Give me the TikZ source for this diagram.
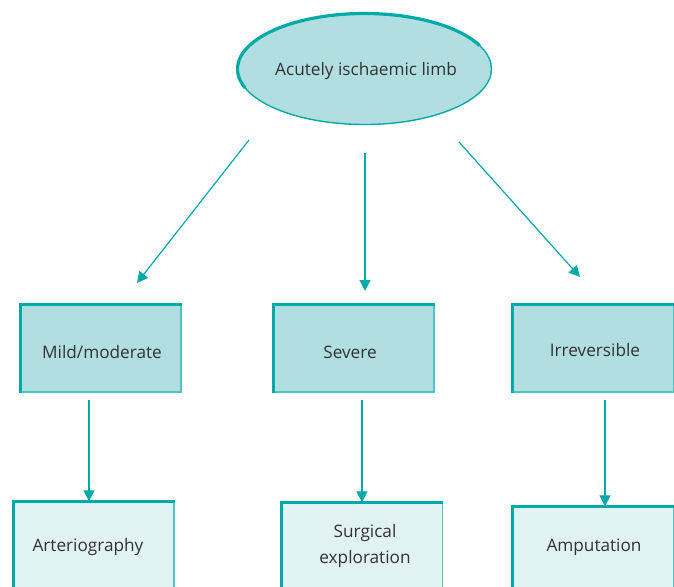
\documentclass[tikz,border=0pt]{standalone}
\usepackage{fontspec}
\setmainfont{Open Sans}
\usetikzlibrary{arrows.meta,shapes.geometric}
\definecolor{teal1}{HTML}{00AAA9}
\definecolor{teal2}{HTML}{4CC4C4}
\definecolor{fillA}{HTML}{B1DFE1}
\definecolor{fillB}{HTML}{E1F2F2}
\definecolor{txt}{HTML}{333333}
\tikzset{
  lbl/.style={text=txt,font=\fontsize{17.2}{26}\selectfont,align=center},
  boxA/.style={draw=teal2,line width=1.3pt,fill=fillA,minimum width=160pt,minimum height=87pt,inner sep=0pt},
  boxB/.style={draw=teal2,line width=1.3pt,fill=fillB,minimum width=160pt,minimum height=100pt,inner sep=0pt},
  thick edge/.style={draw=teal1,line width=3.2pt},
  arr/.style={draw=teal1,line width=1.2pt,-{Triangle[length=11pt,width=11pt]}}
}
\begin{document}
\begin{tikzpicture}[x=1pt,y=-1pt]
\clip (0,0) rectangle (674,586);
\fill[white] (0,0) rectangle (674,586);
% top ellipse
\node[ellipse,draw=teal1,line width=1.4pt,fill=fillA,minimum width=254pt,minimum height=111pt,inner sep=0pt] (top) at (364.5,69) {};
\draw[teal1,line width=3.2pt] (top.center) ++(200:127pt and 55.5pt) arc[start angle=200,end angle=25,x radius=127pt,y radius=55.5pt];
\node[lbl] (toptxt) at (366,71) {Acutely ischaemic limb};
% middle boxes
\node[boxA] (mild) at (101,348.5) {};
\node[boxA] (sev) at (354,348.5) {};
\node[boxA] (irr) at (593.5,348.5) {};
\foreach \n in {mild,sev,irr}{
  \draw[thick edge] (\n.south west) -- (\n.north west) -- (\n.north east);
}
\node[lbl] (mildtxt) at (102,352) {Mild/moderate};
\node[lbl] (sevtxt) at (350,352) {Severe};
\node[lbl] (irrtxt) at (595,350) {Irreversible};
% bottom boxes
\node[boxB] (art) at (94,552) {};
\node[boxB] (surg) at (362.5,553) {};
\node[boxB] (amp) at (593.5,557) {};
\foreach \n in {art,surg,amp}{
  \draw[thick edge] (\n.south west) -- (\n.north west) -- (\n.north east);
}
\node[lbl] (arttxt) at (88,547) {Arteriography};
\node[lbl] (surgtxt) at (365,546) {Surgical\\exploration};
\node[lbl] (amptxt) at (594,547) {Amputation};
% arrow endpoints
\coordinate (s1) at (249,140);
\coordinate (e1) at (137,283);
\coordinate (s2) at (365,153);
\coordinate (e2) at (365,291);
\coordinate (s3) at (459,142);
\coordinate (e3) at (580,277);
\coordinate (s4) at (89,400);
\coordinate (s5) at (362,400);
\coordinate (s6) at (605,400);
\draw[arr] (s1) -- (e1);
\draw[arr] (s2) -- (e2);
\draw[arr] (s3) -- (e3);
\draw[arr] (s4) -- (s4 |- art.north);
\draw[arr] (s5) -- (s5 |- surg.north);
\draw[arr] (s6) -- (s6 |- amp.north);
\end{tikzpicture}
\end{document}
